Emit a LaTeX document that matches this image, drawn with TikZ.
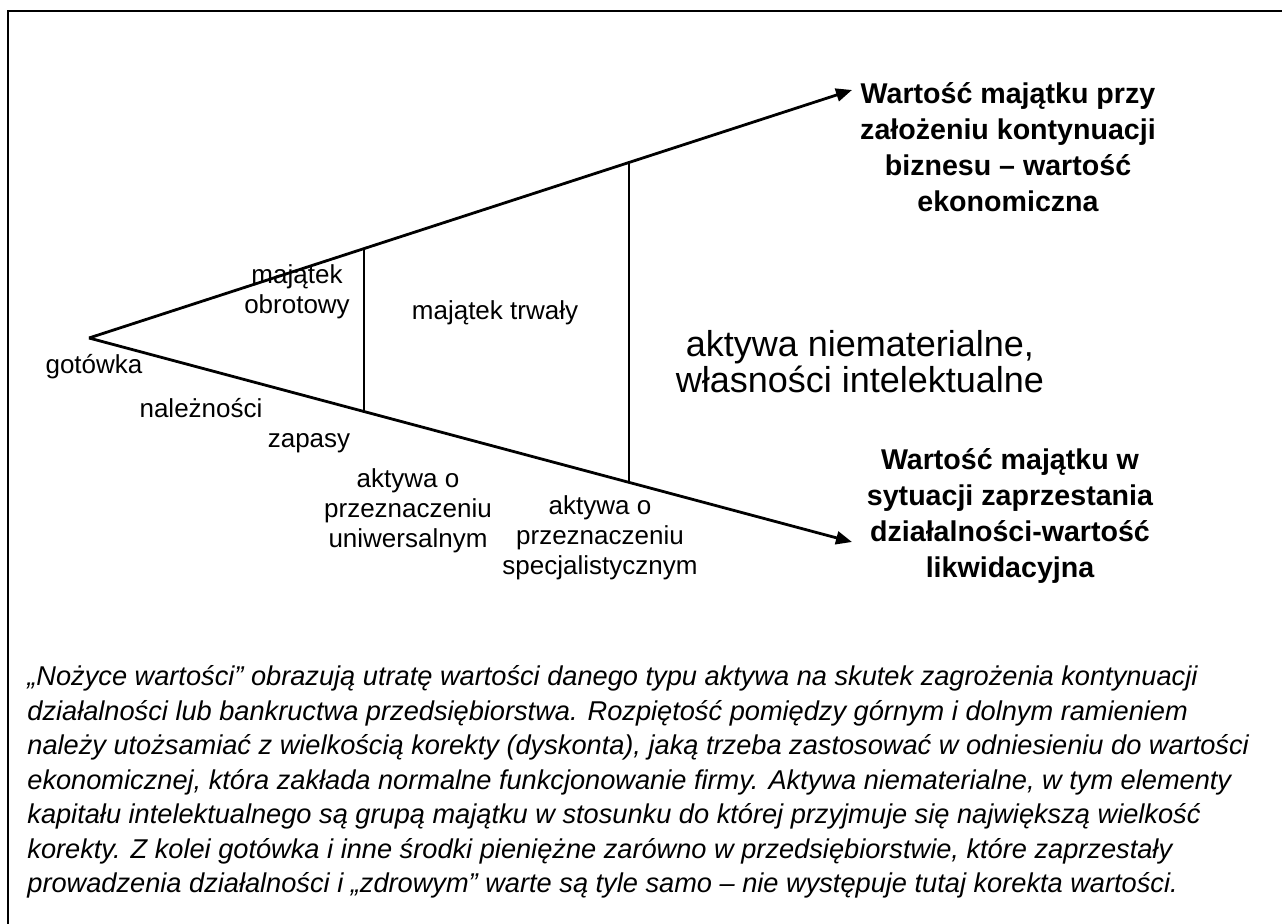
\documentclass[tikz,border=0pt]{standalone}
\usepackage{fontspec}
\setmainfont{Liberation Sans}
\usetikzlibrary{arrows.meta, calc}

\begin{document}
\begin{tikzpicture}[x=0.5pt, y=-0.5pt,
    arm/.style={line width=1.4pt, -{Triangle[length=8pt, width=6.5pt]}},
    divider/.style={line width=0.9pt},
    lbl/.style={inner sep=0pt, align=center, font=\fontsize{13}{15}\selectfont},
    biglbl/.style={inner sep=0pt, align=center, font=\fontsize{18}{16}\selectfont},
    headlbl/.style={inner sep=0pt, align=center, font=\bfseries\fontsize{14.3}{18}\selectfont},
    notetext/.style={inner sep=0pt, align=left, anchor=west,
                     font=\itshape\fontsize{13.6}{17.25}\selectfont}]

    \useasboundingbox (0,0) rectangle (1282,924);

    % --- frame (cut on the right and at the bottom)
    \draw[line width=1pt] (1282,11) -- (8,11) -- (8,924);

    % --- the two arms of the scissors
    \coordinate (apex) at (89,338);
    \coordinate (uptip) at (852,90);
    \coordinate (lowtip) at (852,542);
    \draw[arm] (apex) -- (uptip);
    \draw[arm] (apex) -- (lowtip);

    % --- dividers between groups of assets
    \coordinate (u1) at ($(apex)!0.3604!(uptip)$);
    \coordinate (l1) at ($(apex)!0.3604!(lowtip)$);
    \coordinate (u2) at ($(apex)!0.7077!(uptip)$);
    \coordinate (l2) at ($(apex)!0.7077!(lowtip)$);
    \draw[divider] (u1) -- (l1);
    \draw[divider] (u2) -- (l2);

    % --- labels inside the scissors
    \node[lbl] (obrot) at (297,292) {majątek\\obrotowy};
    \node[lbl] (trwaly) at (495,313) {majątek trwały};
    \node[biglbl] (niemat) at (860,362) {aktywa niematerialne,\\własności intelektualne};

    % --- labels under the lower arm
    \node[lbl] (gotowka) at (94,367) {gotówka};
    \node[lbl] (naleznosci) at (201,408) {należności};
    \node[lbl] (zapasy) at (309,443) {zapasy};
    \node[lbl] (uniw) at (408,511) {aktywa o\\przeznaczeniu\\uniwersalnym};
    \node[lbl] (spec) at (600,538) {aktywa o\\przeznaczeniu\\specjalistycznym};

    % --- values at the arrow ends
    \node[headlbl] (ekon) at (1008,147) {Wartość majątku przy\\założeniu kontynuacji\\biznesu – wartość\\ekonomiczna};
    \node[headlbl] (likw) at (1010,516) {Wartość majątku w\\sytuacji zaprzestania\\działalności-wartość\\likwidacyjna};

    % --- comment under the figure
    \node[notetext] (opis) at (27,782) {„Nożyce wartości” obrazują utratę wartości danego typu aktywa na skutek zagrożenia kontynuacji\\
        działalności lub bankructwa przedsiębiorstwa. Rozpiętość pomiędzy górnym i dolnym ramieniem\\
        należy utożsamiać z wielkością korekty (dyskonta), jaką trzeba zastosować w odniesieniu do wartości\\
        ekonomicznej, która zakłada normalne funkcjonowanie firmy. Aktywa niematerialne, w tym elementy\\
        kapitału intelektualnego są grupą majątku w stosunku do której przyjmuje się największą wielkość\\
        korekty. Z kolei gotówka i inne środki pieniężne zarówno w przedsiębiorstwie, które zaprzestały\\
        prowadzenia działalności i „zdrowym” warte są tyle samo – nie występuje tutaj korekta wartości.};
\end{tikzpicture}
\end{document}
